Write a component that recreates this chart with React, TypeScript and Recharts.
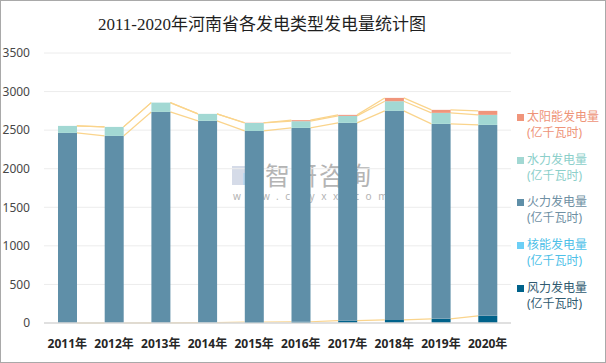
import React from "react";
import * as R from "recharts";

const { ComposedChart, Bar, XAxis, YAxis, CartesianGrid } = R;

// 2011-2020 河南省各类型发电量（亿千瓦时）
const years = ["2011年", "2012年", "2013年", "2014年", "2015年", "2016年", "2017年", "2018年", "2019年", "2020年"];
const wind = [0, 0, 1, 6, 13, 16, 30, 40, 54, 93];
const nuclear = [0, 0, 0, 0, 0, 0, 0, 0, 0, 0];
const thermal = [2464, 2425, 2735, 2614, 2477, 2513, 2564, 2710, 2527, 2475];
const hydro = [91, 117, 121, 91, 104, 87, 91, 125, 143, 130];
const solar = [0, 0, 0, 0, 2, 13, 13, 43, 39, 52];
const yTicks = [0, 500, 1000, 1500, 2000, 2500, 3000, 3500];

const series = [
  { key: "wind", name: "风力发电量", values: wind, color: "#00628a", text: "#2f5a70" },
  { key: "nuclear", name: "核能发电量", values: nuclear, color: "#6ccff6", text: "#4dbfe8" },
  { key: "thermal", name: "火力发电量", values: thermal, color: "#5f8fa8", text: "#6e8fa3" },
  { key: "hydro", name: "水力发电量", values: hydro, color: "#a2d8d3", text: "#8ccfca" },
  { key: "solar", name: "太阳能发电量", values: solar, color: "#f0957b", text: "#ee9378" },
];

const data = years.map((year, i) => {
  const row: any = { year };
  series.forEach((s) => (row[s.key] = s.values[i]));
  return row;
});

const BAR = 19;

// Excel-style series lines joining the top of each stack segment between neighbouring bars
function SeriesLines() {
  const anyR = R as any;
  const xScale = anyR.useXAxisScale();
  const yScale = anyR.useYAxisScale();
  if (!xScale || !yScale) return null;
  const step = xScale(years[1]) - xScale(years[0]);
  const center = (i: number) => xScale(years[i]) + step / 2;

  const lines: any[] = [];
  const cum = years.map(() => 0);
  series.forEach((s) => {
    s.values.forEach((v, i) => (cum[i] += v));
    if (s.key === "nuclear") return;
    for (let i = 0; i < years.length - 1; i++) {
      lines.push(
        <line
          key={s.key + i}
          x1={center(i) + BAR / 2}
          y1={yScale(cum[i])}
          x2={center(i + 1) - BAR / 2}
          y2={yScale(cum[i + 1])}
          stroke="#fad48c"
          strokeWidth={1.2}
        />
      );
    }
  });
  return <g>{lines}</g>;
}

export default function App() {
  return (
    <div
      style={{
        position: "fixed",
        left: 0,
        top: 0,
        width: 606,
        height: 363,
        boxSizing: "border-box",
        border: "1px solid #a9a9a9",
        background: "#fff",
        fontFamily: "'Noto Sans', 'Noto Sans CJK SC', sans-serif",
      }}
    >
      <div
        style={{
          position: "absolute",
          left: 0,
          width: 522,
          top: 9,
          textAlign: "center",
          fontSize: 17,
          color: "#1f1f1f",
          fontFamily: "'Liberation Serif', 'Noto Sans CJK SC', serif",
        }}
      >
        2011-2020年河南省各发电类型发电量统计图
      </div>

      {/* watermark sits behind the bars */}
      <div
        style={{
          position: "absolute",
          left: 231,
          top: 162,
          pointerEvents: "none",
          color: "#b4b4b4",
        }}
      >
        <div style={{ display: "flex", alignItems: "center" }}>
          <div style={{ width: 26, height: 19, marginRight: 7, position: "relative" }}>
            <div style={{ position: "absolute", left: 0, top: 0, width: 17, height: 19, background: "#d5dbe8" }} />
            <div style={{ position: "absolute", left: 11, top: 7, width: 15, height: 12, background: "#bcd8ef" }} />
          </div>
          <div style={{ fontSize: 25, lineHeight: "24px", letterSpacing: 2 }}>智研咨询</div>
        </div>
        <div style={{ fontSize: 10, letterSpacing: 6.6, marginTop: 2, marginLeft: 1 }}>www.chyxx.com</div>
      </div>

      <ComposedChart width={604} height={361} data={data} margin={{ top: 52, right: 94, bottom: 9, left: 0 }}>
        <CartesianGrid vertical={false} stroke="#ececec" />
        <XAxis
          dataKey="year"
          height={30}
          axisLine={{ stroke: "#d9d9d9", strokeWidth: 1.5 }}
          tickLine={false}
          tickMargin={10}
          tick={{ fill: "#262626", fontSize: 12, fontWeight: 700 }}
        />
        <YAxis
          width={43}
          domain={[0, 3500]}
          ticks={yTicks}
          axisLine={false}
          tickLine={false}
          tickMargin={8}
          tick={{ fill: "#474747", fontSize: 12 }}
        />
        {series.map((s) => (
          <Bar key={s.key} dataKey={s.key} name={s.name} stackId="a" fill={s.color} barSize={BAR} isAnimationActive={false} />
        ))}
        <SeriesLines />
      </ComposedChart>

      <div style={{ position: "absolute", left: 516, top: 108 }}>
        {[...series].reverse().map((s) => (
          <div key={s.key} style={{ display: "flex", alignItems: "flex-start", height: 42.7 }}>
            <div style={{ width: 7, height: 7, background: s.color, marginTop: 5, marginRight: 3 }} />
            <div style={{ fontSize: 12, lineHeight: "16px", color: s.text }}>
              <div>{s.name}</div>
              <div>(亿千瓦时)</div>
            </div>
          </div>
        ))}
      </div>
    </div>
  );
}
